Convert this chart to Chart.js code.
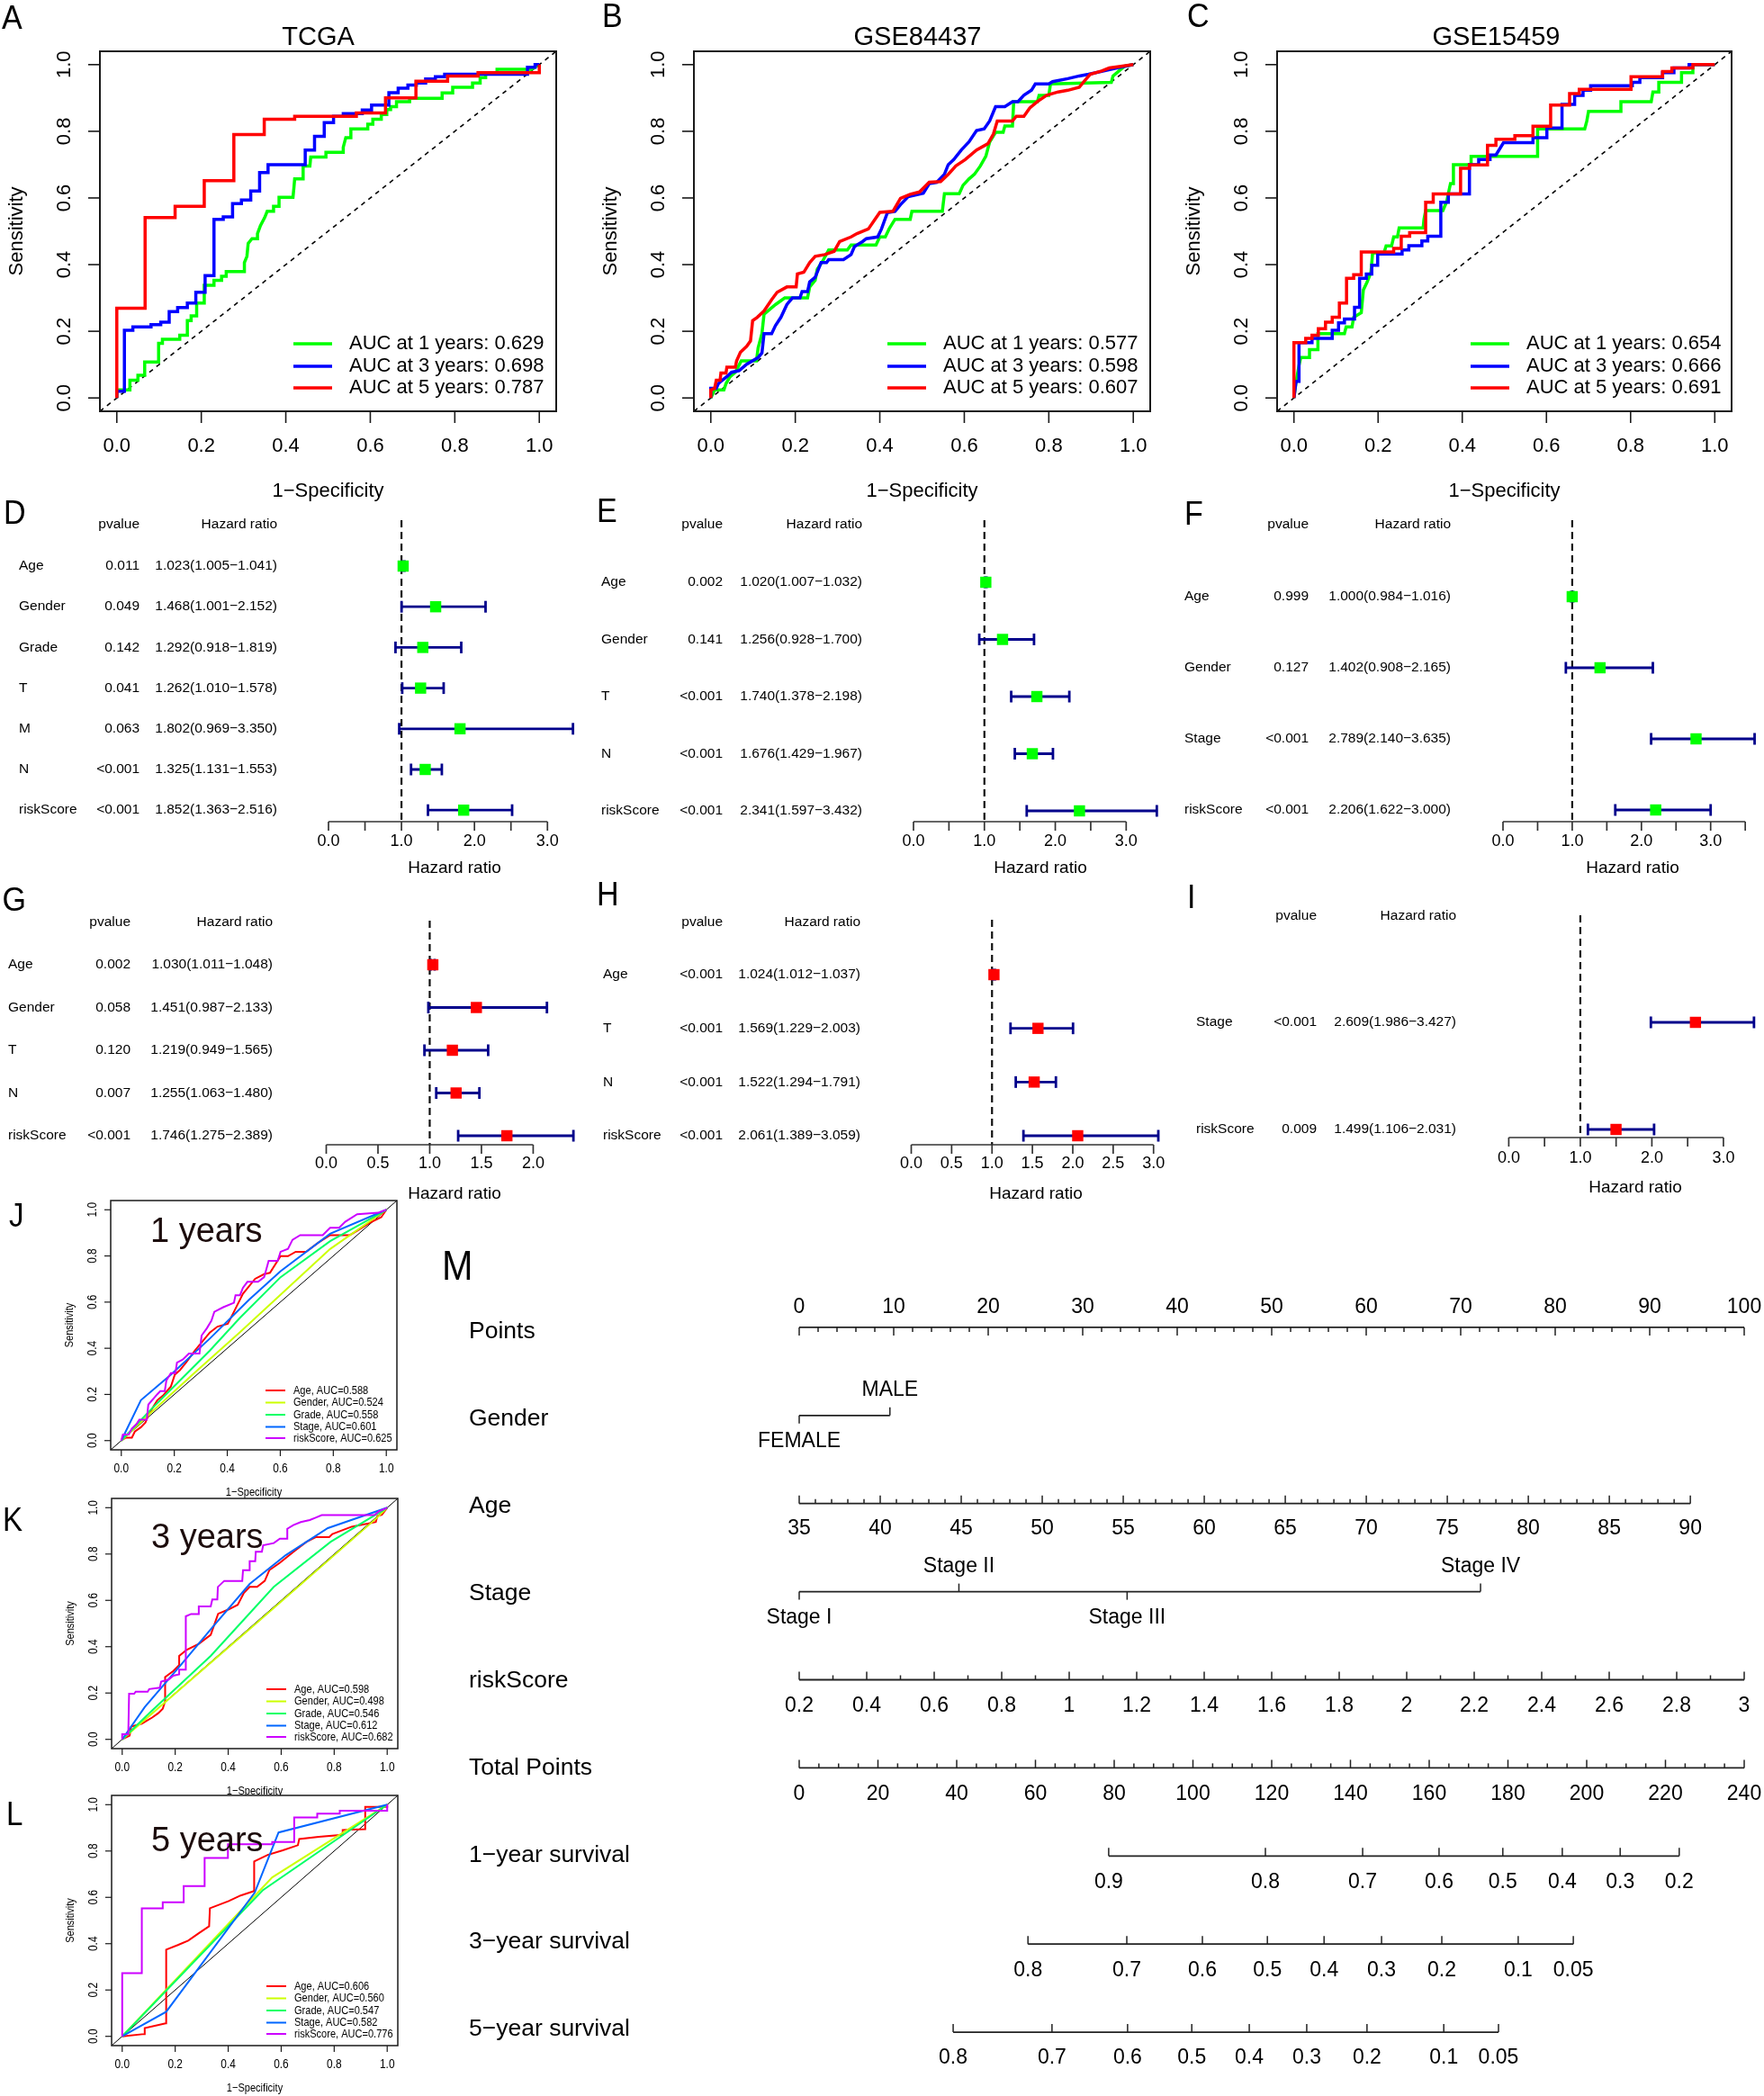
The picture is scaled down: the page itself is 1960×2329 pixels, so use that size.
<!DOCTYPE html>
<html lang="en">
<head>
<meta charset="UTF-8">
<title>Risk model validation figure</title>
<script src="https://cdn.jsdelivr.net/npm/chart.js"></script>
<style>
  body { margin: 0; background: #fff; }
  #fig { position: relative; width: 1960px; height: 2329px; background: #fff; overflow: hidden; }
  #fig canvas { position: absolute; }
</style>
</head>
<body>
<div id="fig"></div>
<script>
// ---------- ROC curves, panels A-C : [1-specificity, sensitivity] ----------
const rocYears = [1, 3, 5];
const rocColors = ['#00FF00', '#0000FF', '#FF0000'];
const rocTicks = [0, 0.2, 0.4, 0.6, 0.8, 1.0];

const rocTCGA1 = [[0,0],[0,0.024],[0.031,0.024],[0.031,0.053],[0.050,0.053],[0.050,0.068],[0.066,0.068],[0.066,0.108],[0.099,0.108],[0.099,0.164],[0.108,0.164],[0.108,0.176],[0.149,0.176],[0.149,0.188],[0.167,0.188],[0.167,0.232],[0.176,0.232],[0.176,0.246],[0.189,0.246],[0.189,0.285],[0.207,0.285],[0.207,0.338],[0.230,0.338],[0.230,0.353],[0.248,0.353],[0.248,0.365],[0.259,0.365],[0.259,0.379],[0.302,0.379],[0.302,0.406],[0.308,0.425],[0.311,0.464],[0.320,0.478],[0.333,0.478],[0.333,0.493],[0.340,0.517],[0.350,0.541],[0.356,0.560],[0.371,0.560],[0.371,0.575],[0.384,0.575],[0.384,0.602],[0.417,0.602],[0.419,0.628],[0.421,0.657],[0.441,0.657],[0.441,0.696],[0.457,0.696],[0.459,0.723],[0.495,0.723],[0.495,0.737],[0.536,0.737],[0.536,0.752],[0.542,0.781],[0.554,0.781],[0.554,0.807],[0.594,0.807],[0.594,0.821],[0.606,0.821],[0.606,0.836],[0.626,0.836],[0.626,0.850],[0.639,0.850],[0.639,0.865],[0.648,0.865],[0.648,0.874],[0.662,0.874],[0.662,0.889],[0.693,0.889],[0.693,0.899],[0.770,0.899],[0.770,0.915],[0.795,0.915],[0.795,0.932],[0.842,0.932],[0.842,0.945],[0.860,0.945],[0.860,0.961],[0.873,0.961],[0.873,0.974],[0.900,0.974],[0.900,0.986],[0.981,0.986],[1,1]];
const rocTCGA3 = [[0,0],[0,0.02],[0.018,0.02],[0.018,0.203],[0.038,0.203],[0.038,0.213],[0.081,0.213],[0.081,0.220],[0.104,0.220],[0.104,0.227],[0.124,0.227],[0.124,0.259],[0.144,0.259],[0.144,0.271],[0.167,0.271],[0.167,0.285],[0.187,0.285],[0.187,0.317],[0.209,0.317],[0.209,0.367],[0.230,0.367],[0.230,0.536],[0.252,0.536],[0.252,0.543],[0.274,0.543],[0.274,0.583],[0.295,0.583],[0.295,0.594],[0.317,0.594],[0.317,0.621],[0.338,0.621],[0.338,0.676],[0.358,0.676],[0.358,0.700],[0.446,0.700],[0.446,0.744],[0.468,0.744],[0.468,0.785],[0.491,0.785],[0.491,0.826],[0.513,0.826],[0.513,0.845],[0.536,0.845],[0.536,0.853],[0.581,0.853],[0.581,0.864],[0.603,0.864],[0.603,0.879],[0.644,0.879],[0.644,0.916],[0.666,0.916],[0.666,0.929],[0.689,0.929],[0.689,0.939],[0.709,0.939],[0.709,0.945],[0.731,0.945],[0.731,0.957],[0.754,0.957],[0.754,0.964],[0.776,0.964],[0.776,0.971],[0.972,0.971],[0.972,0.992],[0.990,0.992],[0.990,1],[1,1]];
const rocTCGA5 = [[0,0],[0,0.269],[0.067,0.269],[0.067,0.541],[0.138,0.541],[0.138,0.575],[0.207,0.575],[0.207,0.652],[0.277,0.652],[0.277,0.790],[0.349,0.790],[0.349,0.836],[0.421,0.836],[0.421,0.845],[0.567,0.845],[0.567,0.855],[0.636,0.855],[0.636,0.900],[0.708,0.900],[0.708,0.950],[0.783,0.950],[0.783,0.966],[0.855,0.966],[0.855,0.976],[1,0.976],[1,1]];
const aucTCGA = [0.629, 0.698, 0.787];

const rocG84_1 = [[0,0],[0.009,0.024],[0.031,0.024],[0.036,0.043],[0.045,0.063],[0.058,0.077],[0.072,0.111],[0.108,0.111],[0.112,0.150],[0.121,0.193],[0.126,0.251],[0.153,0.280],[0.175,0.300],[0.229,0.300],[0.234,0.333],[0.247,0.353],[0.252,0.386],[0.265,0.411],[0.279,0.444],[0.323,0.444],[0.332,0.459],[0.391,0.459],[0.400,0.483],[0.413,0.483],[0.422,0.507],[0.436,0.536],[0.472,0.536],[0.476,0.560],[0.548,0.560],[0.553,0.613],[0.588,0.613],[0.597,0.638],[0.611,0.657],[0.624,0.671],[0.638,0.696],[0.651,0.725],[0.660,0.768],[0.674,0.797],[0.692,0.797],[0.696,0.816],[0.714,0.816],[0.717,0.889],[0.773,0.889],[0.777,0.908],[0.800,0.908],[0.804,0.942],[0.948,0.947],[0.952,0.966],[0.966,0.981],[0.979,0.995],[1,1]];
const rocG84_3 = [[0,0],[0,0.029],[0.013,0.029],[0.018,0.043],[0.027,0.053],[0.040,0.066],[0.049,0.077],[0.067,0.082],[0.085,0.101],[0.112,0.121],[0.121,0.135],[0.126,0.193],[0.144,0.193],[0.153,0.217],[0.166,0.242],[0.180,0.280],[0.193,0.300],[0.211,0.300],[0.216,0.319],[0.229,0.319],[0.234,0.348],[0.247,0.362],[0.261,0.406],[0.274,0.406],[0.279,0.415],[0.314,0.415],[0.332,0.430],[0.340,0.454],[0.359,0.469],[0.368,0.478],[0.395,0.483],[0.404,0.507],[0.418,0.556],[0.436,0.560],[0.449,0.580],[0.467,0.604],[0.503,0.614],[0.517,0.643],[0.535,0.647],[0.553,0.671],[0.562,0.700],[0.575,0.715],[0.593,0.744],[0.611,0.768],[0.629,0.802],[0.647,0.807],[0.660,0.831],[0.674,0.874],[0.696,0.874],[0.714,0.889],[0.727,0.889],[0.741,0.908],[0.759,0.923],[0.768,0.942],[0.800,0.942],[0.809,0.949],[0.845,0.958],[0.872,0.966],[0.894,0.971],[0.930,0.981],[0.961,0.990],[1,1]];
const rocG84_5 = [[0,0],[0,0.024],[0.009,0.029],[0.013,0.053],[0.022,0.053],[0.024,0.075],[0.036,0.075],[0.038,0.092],[0.058,0.092],[0.061,0.111],[0.070,0.137],[0.085,0.155],[0.094,0.171],[0.099,0.232],[0.110,0.242],[0.126,0.261],[0.144,0.295],[0.157,0.317],[0.180,0.333],[0.202,0.333],[0.205,0.372],[0.220,0.377],[0.234,0.406],[0.247,0.425],[0.270,0.430],[0.292,0.440],[0.305,0.469],[0.332,0.483],[0.346,0.493],[0.373,0.507],[0.386,0.531],[0.400,0.557],[0.431,0.560],[0.449,0.599],[0.472,0.611],[0.494,0.618],[0.517,0.647],[0.544,0.649],[0.562,0.671],[0.580,0.696],[0.602,0.715],[0.629,0.744],[0.656,0.763],[0.669,0.792],[0.678,0.831],[0.714,0.831],[0.723,0.845],[0.741,0.845],[0.755,0.870],[0.773,0.889],[0.795,0.908],[0.822,0.918],[0.845,0.923],[0.872,0.932],[0.885,0.952],[0.898,0.971],[0.925,0.981],[0.943,0.990],[0.970,0.995],[1,1]];
const aucG84 = [0.577, 0.598, 0.607];

const rocG15_1 = [[0,0],[0.005,0.048],[0.012,0.097],[0.016,0.121],[0.037,0.121],[0.037,0.145],[0.057,0.145],[0.057,0.193],[0.120,0.193],[0.124,0.213],[0.138,0.213],[0.142,0.242],[0.160,0.256],[0.165,0.324],[0.174,0.348],[0.183,0.377],[0.187,0.435],[0.214,0.435],[0.219,0.456],[0.232,0.456],[0.237,0.483],[0.246,0.483],[0.250,0.510],[0.307,0.510],[0.309,0.536],[0.313,0.562],[0.354,0.562],[0.363,0.589],[0.367,0.614],[0.372,0.643],[0.379,0.643],[0.379,0.700],[0.421,0.700],[0.421,0.725],[0.579,0.725],[0.579,0.807],[0.691,0.807],[0.696,0.831],[0.700,0.860],[0.777,0.860],[0.777,0.889],[0.849,0.889],[0.853,0.918],[0.867,0.918],[0.867,0.947],[0.921,0.947],[0.921,0.976],[0.948,0.976],[0.948,1],[1,1]];
const rocG15_3 = [[0,0],[0.005,0.050],[0.012,0.050],[0.012,0.166],[0.043,0.166],[0.043,0.179],[0.091,0.179],[0.091,0.203],[0.106,0.203],[0.106,0.225],[0.120,0.225],[0.120,0.237],[0.144,0.237],[0.144,0.272],[0.156,0.272],[0.156,0.359],[0.172,0.359],[0.172,0.372],[0.185,0.372],[0.185,0.398],[0.199,0.398],[0.199,0.432],[0.257,0.432],[0.257,0.444],[0.273,0.444],[0.273,0.457],[0.304,0.457],[0.304,0.471],[0.318,0.471],[0.318,0.485],[0.349,0.485],[0.349,0.587],[0.367,0.587],[0.367,0.612],[0.417,0.612],[0.417,0.700],[0.439,0.700],[0.439,0.715],[0.466,0.715],[0.466,0.729],[0.480,0.729],[0.498,0.766],[0.568,0.766],[0.568,0.781],[0.601,0.781],[0.601,0.810],[0.637,0.810],[0.637,0.881],[0.667,0.881],[0.667,0.908],[0.687,0.908],[0.687,0.923],[0.705,0.923],[0.705,0.937],[0.804,0.937],[0.804,0.947],[0.822,0.947],[0.822,0.961],[0.876,0.961],[0.876,0.976],[0.903,0.976],[0.903,0.990],[0.939,0.990],[0.939,1],[1,1]];
const rocG15_5 = [[0,0],[0,0.166],[0.028,0.166],[0.028,0.179],[0.043,0.179],[0.043,0.188],[0.058,0.188],[0.058,0.208],[0.075,0.208],[0.075,0.227],[0.091,0.227],[0.091,0.242],[0.108,0.242],[0.108,0.285],[0.125,0.285],[0.125,0.359],[0.142,0.359],[0.142,0.370],[0.160,0.370],[0.160,0.438],[0.237,0.438],[0.237,0.449],[0.255,0.449],[0.255,0.485],[0.275,0.485],[0.275,0.496],[0.313,0.496],[0.313,0.587],[0.331,0.587],[0.331,0.612],[0.396,0.612],[0.396,0.689],[0.417,0.689],[0.417,0.699],[0.460,0.699],[0.460,0.758],[0.480,0.758],[0.480,0.776],[0.525,0.776],[0.525,0.787],[0.568,0.787],[0.568,0.815],[0.610,0.815],[0.610,0.879],[0.655,0.879],[0.655,0.913],[0.678,0.913],[0.678,0.926],[0.801,0.926],[0.801,0.964],[0.876,0.964],[0.876,0.979],[0.898,0.979],[0.898,0.990],[0.948,0.990],[0.948,1],[1,1]];
const aucG15 = [0.654, 0.666, 0.691];

// ---------- ROC of clinical variables, panels J-L ----------
const clinVars = ['Age', 'Gender', 'Grade', 'Stage', 'riskScore'];
const clinColors = ['#FF0000', '#CCFF00', '#00FF66', '#0066FF', '#CC00FF'];

const j_age = [[0,0],[0.017,0.013],[0.040,0.013],[0.051,0.039],[0.074,0.058],[0.091,0.078],[0.102,0.110],[0.119,0.143],[0.136,0.175],[0.159,0.197],[0.187,0.234],[0.202,0.286],[0.221,0.305],[0.244,0.338],[0.278,0.390],[0.306,0.429],[0.334,0.468],[0.363,0.494],[0.402,0.506],[0.425,0.558],[0.459,0.636],[0.505,0.701],[0.539,0.721],[0.561,0.727],[0.601,0.799],[0.629,0.799],[0.658,0.818],[0.697,0.818],[0.743,0.857],[0.788,0.890],[0.862,0.890],[0.890,0.909],[0.935,0.942],[0.981,0.968],[1,1]];
const j_gender = [[0,0],[0.108,0.117],[0.278,0.295],[0.448,0.470],[0.618,0.650],[0.788,0.830],[1,1]];
const j_grade = [[0,0],[0.108,0.130],[0.221,0.260],[0.334,0.390],[0.448,0.532],[0.601,0.708],[0.788,0.864],[1,1]];
const j_stage = [[0,0],[0.074,0.175],[0.187,0.286],[0.334,0.442],[0.482,0.610],[0.601,0.734],[0.788,0.896],[1,1]];
const j_risk = [[0,0],[0.006,0.026],[0.028,0.026],[0.040,0.052],[0.057,0.071],[0.068,0.091],[0.096,0.091],[0.102,0.156],[0.136,0.201],[0.147,0.214],[0.164,0.214],[0.170,0.260],[0.187,0.292],[0.204,0.292],[0.210,0.338],[0.232,0.351],[0.255,0.377],[0.295,0.377],[0.303,0.455],[0.323,0.487],[0.340,0.519],[0.351,0.558],[0.385,0.578],[0.425,0.597],[0.431,0.630],[0.448,0.630],[0.459,0.662],[0.476,0.688],[0.516,0.688],[0.539,0.708],[0.556,0.779],[0.590,0.779],[0.601,0.818],[0.629,0.831],[0.646,0.870],[0.675,0.890],[0.760,0.890],[0.788,0.922],[0.822,0.922],[0.845,0.948],[0.890,0.981],[0.969,0.987],[1,1]];
const aucJ = [0.588, 0.524, 0.558, 0.601, 0.625];

const k_age = [[0,0],[0.028,0.016],[0.034,0.055],[0.074,0.068],[0.113,0.094],[0.136,0.113],[0.153,0.132],[0.162,0.165],[0.162,0.269],[0.193,0.295],[0.215,0.321],[0.215,0.360],[0.243,0.386],[0.289,0.412],[0.334,0.451],[0.362,0.542],[0.402,0.561],[0.436,0.581],[0.459,0.632],[0.481,0.658],[0.509,0.658],[0.538,0.684],[0.555,0.730],[0.595,0.762],[0.651,0.814],[0.696,0.853],[0.730,0.873],[0.781,0.873],[0.793,0.886],[0.866,0.918],[0.957,0.938],[0.963,0.964],[0.980,0.970],[1,1]];
const k_gender = [[0,0],[0.5,0.495],[0.96,0.955],[1,1]];
const k_grade = [[0,0],[0.108,0.119],[0.334,0.360],[0.572,0.658],[0.787,0.853],[1,1]];
const k_stage = [[0,0],[0.085,0.139],[0.221,0.321],[0.345,0.490],[0.481,0.671],[0.617,0.795],[0.776,0.912],[1,1]];
const k_risk = [[0,0],[0,0.022],[0.023,0.022],[0.026,0.197],[0.045,0.197],[0.051,0.206],[0.096,0.206],[0.102,0.217],[0.142,0.223],[0.147,0.249],[0.175,0.258],[0.193,0.275],[0.215,0.281],[0.215,0.301],[0.240,0.301],[0.240,0.531],[0.260,0.541],[0.289,0.541],[0.289,0.574],[0.334,0.574],[0.340,0.604],[0.359,0.604],[0.361,0.658],[0.385,0.684],[0.453,0.684],[0.456,0.730],[0.481,0.730],[0.481,0.769],[0.502,0.769],[0.504,0.810],[0.527,0.810],[0.532,0.838],[0.572,0.847],[0.595,0.866],[0.623,0.866],[0.623,0.909],[0.646,0.925],[0.674,0.938],[0.708,0.947],[0.730,0.957],[0.753,0.968],[0.951,0.968],[0.968,0.984],[1,1]];
const aucK = [0.598, 0.498, 0.546, 0.612, 0.682];

const l_age = [[0,0],[0.083,0.010],[0.085,0.036],[0.164,0.056],[0.166,0.374],[0.210,0.394],[0.249,0.413],[0.289,0.445],[0.328,0.475],[0.331,0.553],[0.402,0.584],[0.447,0.608],[0.498,0.627],[0.498,0.755],[0.549,0.783],[0.606,0.803],[0.663,0.825],[0.668,0.852],[0.742,0.861],[0.832,0.870],[0.832,0.891],[0.917,0.894],[0.917,0.990],[1,0.990],[1,1]];
const l_gender = [[0,0],[0.566,0.686],[1,1]];
const l_grade = [[0,0],[0.53,0.63],[1,1]];
const l_stage = [[0,0],[0.166,0.106],[0.5,0.62],[0.59,0.88],[1,1]];
const l_risk = [[0,0],[0,0.273],[0.074,0.273],[0.074,0.552],[0.153,0.552],[0.153,0.579],[0.232,0.579],[0.232,0.649],[0.311,0.649],[0.311,0.770],[0.399,0.770],[0.399,0.829],[0.566,0.829],[0.566,0.839],[0.649,0.839],[0.649,0.945],[0.736,0.945],[0.736,0.961],[0.821,0.961],[0.821,0.974],[1,0.974],[1,1]];
const aucL = [0.606, 0.560, 0.547, 0.582, 0.776];

// ---------- Cox forest plots, panels D-I ----------
const dVars = ['Age', 'Gender', 'Grade', 'T', 'M', 'N', 'riskScore'];
const dP = ['0.011', '0.049', '0.142', '0.041', '0.063', '<0.001', '<0.001'];
const dHR = [1.023, 1.468, 1.292, 1.262, 1.802, 1.325, 1.852];
const dLo = [1.005, 1.001, 0.918, 1.010, 0.969, 1.131, 1.363];
const dHi = [1.041, 2.152, 1.819, 1.578, 3.350, 1.553, 2.516];

const eVars = ['Age', 'Gender', 'T', 'N', 'riskScore'];
const eP = ['0.002', '0.141', '<0.001', '<0.001', '<0.001'];
const eHR = [1.020, 1.256, 1.740, 1.676, 2.341];
const eLo = [1.007, 0.928, 1.378, 1.429, 1.597];
const eHi = [1.032, 1.700, 2.198, 1.967, 3.432];

const fVars = ['Age', 'Gender', 'Stage', 'riskScore'];
const fP = ['0.999', '0.127', '<0.001', '<0.001'];
const fHR = [1.000, 1.402, 2.789, 2.206];
const fLo = [0.984, 0.908, 2.140, 1.622];
const fHi = [1.016, 2.165, 3.635, 3.000];

const gVars = ['Age', 'Gender', 'T', 'N', 'riskScore'];
const gP = ['0.002', '0.058', '0.120', '0.007', '<0.001'];
const gHR = [1.030, 1.451, 1.219, 1.255, 1.746];
const gLo = [1.011, 0.987, 0.949, 1.063, 1.275];
const gHi = [1.048, 2.133, 1.565, 1.480, 2.389];

const hVars = ['Age', 'T', 'N', 'riskScore'];
const hP = ['<0.001', '<0.001', '<0.001', '<0.001'];
const hHR = [1.024, 1.569, 1.522, 2.061];
const hLo = [1.012, 1.229, 1.294, 1.389];
const hHi = [1.037, 2.003, 1.791, 3.059];

const iVars = ['Stage', 'riskScore'];
const iP = ['<0.001', '0.009'];
const iHR = [2.609, 1.499];
const iLo = [1.986, 1.106];
const iHi = [3.427, 2.031];

// ---------- Nomogram, panel M ----------
const nomoRows = ['Points', 'Gender', 'Age', 'Stage', 'riskScore', 'Total Points',
  '1\u2212year survival', '3\u2212year survival', '5\u2212year survival'];
const pointsTicks = [0, 10, 20, 30, 40, 50, 60, 70, 80, 90, 100];
const genderLevels = ['FEMALE', 'MALE'];
const genderPoints = [0, 9.6];
const ageTicks = [35, 40, 45, 50, 55, 60, 65, 70, 75, 80, 85, 90];
const agePointsMax = 94.3;
const stageLevels = ['Stage I', 'Stage II', 'Stage III', 'Stage IV'];
const stagePoints = [0, 16.9, 34.7, 72.1];
const riskTicks = [0.2, 0.4, 0.6, 0.8, 1, 1.2, 1.4, 1.6, 1.8, 2, 2.2, 2.4, 2.6, 2.8, 3];
const totalTicks = [0, 20, 40, 60, 80, 100, 120, 140, 160, 180, 200, 220, 240];
const surv1 = [0.9, 0.8, 0.7, 0.6, 0.5, 0.4, 0.3, 0.2];
const surv1Total = [78.6, 118.4, 143.1, 162.5, 178.7, 193.8, 208.5, 223.5];
const surv3 = [0.8, 0.7, 0.6, 0.5, 0.4, 0.3, 0.2, 0.1, 0.05];
const surv3Total = [58.1, 83.2, 102.4, 118.9, 133.3, 147.9, 163.2, 182.6, 196.6];
const surv5 = [0.8, 0.7, 0.6, 0.5, 0.4, 0.3, 0.2, 0.1, 0.05];
const surv5Total = [39.1, 64.2, 83.4, 99.7, 114.3, 128.9, 144.2, 163.7, 177.6];

// ================= drawing =================
const FONT = '"Liberation Sans", Arial, Helvetica, sans-serif';
Chart.defaults.font.family = FONT;
const CI_COL = '#00008B';

function place(x, y, w, h) {
  const c = document.createElement('canvas');
  c.width = w; c.height = h;
  c.style.left = x + 'px'; c.style.top = y + 'px';
  c.style.width = w + 'px'; c.style.height = h + 'px';
  document.getElementById('fig').appendChild(c);
  return c;
}

function txt(ctx, s, x, y, o) {
  o = o || {};
  ctx.save();
  ctx.translate(x, y);
  if (o.rot) ctx.rotate(o.rot);
  ctx.scale(o.sx || 1, 1);
  ctx.font = (o.size || 14) + 'px ' + FONT;
  ctx.fillStyle = o.color || '#000';
  ctx.textAlign = o.align || 'center';
  ctx.textBaseline = o.base || 'middle';
  ctx.fillText(s, 0, 0);
  ctx.restore();
}

function line(ctx, x1, y1, x2, y2) {
  ctx.beginPath(); ctx.moveTo(x1, y1); ctx.lineTo(x2, y2); ctx.stroke();
}

const baseOpts = {
  responsive: false, animation: false, devicePixelRatio: 1, events: [],
  plugins: { legend: { display: false }, tooltip: { enabled: false } }
};

// ---- ROC panels ----
const bigSt = { font: 22, tfont: 22, lfont: 22, sx: 1, tick: 13, xlab: 39, ylab: 39, xtitle: 89, ytitle: 92,
  boxW: 2, tickW: 1.6, legX1: 215, legX2: 258, legTX: 277, legRows: [-75, -50, -26], letter: 37 };
const smallSt = { font: 14, tfont: 13, lfont: 13, sx: 0.85, tick: 7, xlab: 21, ylab: 20, xtitle: 47, ytitle: 46,
  boxW: 1.5, tickW: 1.2, legX1: 172, legX2: 194, legTX: 203, legRows: [-66, -52.5, -39, -25.5, -13], letter: 36 };

function rocPanel(o) {
  const [cx, cy, cw, ch] = o.rect, [bx0, by0, bx1, by1] = o.box;
  const cv = place(cx, cy, cw, ch);
  const n = o.curves.length;
  const ds = o.curves.map((c, i) => ({
    data: c.map(p => ({ x: p[0], y: p[1] })),
    borderColor: o.colors[i], borderWidth: o.lw, showLine: true,
    pointRadius: 0, tension: 0, order: n - i, clip: 3
  }));
  ds.push({ data: [{ x: -0.04, y: -0.04 }, { x: 1.04, y: 1.04 }], borderColor: '#000',
    borderWidth: o.diagW, borderDash: o.diagDash, showLine: true, pointRadius: 0, order: 99, clip: 0 });
  new Chart(cv, {
    type: 'scatter',
    data: { datasets: ds },
    options: Object.assign({}, baseOpts, {
      layout: { padding: { left: bx0 - cx, top: by0 - cy, right: cx + cw - bx1, bottom: cy + ch - by1 } },
      scales: {
        x: { type: 'linear', min: -0.04, max: 1.04, display: false },
        y: { type: 'linear', min: -0.04, max: 1.04, display: false }
      }
    }),
    plugins: [{ id: 'rocDecor', afterDraw: chart => drawRocDecor(chart, o) }]
  });
}

function drawRocDecor(chart, o) {
  const ctx = chart.ctx, a = chart.chartArea, s = o.st;
  const X = v => chart.scales.x.getPixelForValue(v);
  const Y = v => chart.scales.y.getPixelForValue(v);
  const [cx, cy] = o.rect;
  ctx.save();
  ctx.strokeStyle = '#1a1a1a'; ctx.lineWidth = s.boxW;
  ctx.strokeRect(a.left, a.top, a.right - a.left, a.bottom - a.top);
  ctx.lineWidth = s.tickW;
  rocTicks.forEach(t => {
    line(ctx, X(t), a.bottom, X(t), a.bottom + s.tick);
    line(ctx, a.left, Y(t), a.left - s.tick, Y(t));
    txt(ctx, t.toFixed(1), X(t), a.bottom + s.xlab, { size: s.font, sx: s.sx });
    txt(ctx, t.toFixed(1), a.left - s.ylab, Y(t), { size: s.font, sx: s.sx, rot: -Math.PI / 2 });
  });
  const mx = (a.left + a.right) / 2, my = (a.top + a.bottom) / 2;
  txt(ctx, '1\u2212Specificity', mx, a.bottom + s.xtitle, { size: s.tfont, sx: s.sx });
  txt(ctx, 'Sensitivity', a.left - s.ytitle, my, { size: s.tfont, sx: s.sx, rot: -Math.PI / 2 });
  if (o.title) txt(ctx, o.title, mx + o.titleDx, a.top - 7, { size: 29, base: 'alphabetic' });
  if (o.yearText) txt(ctx, o.yearText, a.left + 44, a.top + o.yearBase,
    { size: 38, base: 'alphabetic', align: 'left', color: '#1c0c0c' });
  ctx.lineWidth = o.lw;
  o.legend.forEach((lab, i) => {
    const y = a.bottom + s.legRows[i];
    ctx.strokeStyle = o.colors[i];
    line(ctx, a.left + s.legX1, y, a.left + s.legX2, y);
    txt(ctx, lab, a.left + s.legTX, y, { size: s.lfont, sx: s.sx, align: 'left' });
  });
  txt(ctx, o.letter, o.letterPos[0] - cx, o.letterPos[1] - cy, { size: s.letter, sx: 0.92, align: 'left', base: 'alphabetic' });
  ctx.restore();
}

const yearLegend = auc => auc.map((v, i) => 'AUC at ' + rocYears[i] + ' years: ' + v.toFixed(3));
const clinLegend = auc => auc.map((v, i) => clinVars[i] + ', AUC=' + v.toFixed(3));

rocPanel({ rect: [0, 0, 660, 575], box: [111, 57, 618, 457], curves: [rocTCGA1, rocTCGA3, rocTCGA5],
  colors: rocColors, lw: 3.5, diagW: 1.6, diagDash: [5, 5], st: bigSt, title: 'TCGA', titleDx: -11,
  legend: yearLegend(aucTCGA), letter: 'A', letterPos: [2, 32] });
rocPanel({ rect: [655, 0, 650, 575], box: [771, 57, 1278, 457], curves: [rocG84_1, rocG84_3, rocG84_5],
  colors: rocColors, lw: 3.5, diagW: 1.6, diagDash: [5, 5], st: bigSt, title: 'GSE84437', titleDx: -5,
  legend: yearLegend(aucG84), letter: 'B', letterPos: [669, 30] });
rocPanel({ rect: [1305, 0, 655, 575], box: [1419, 57, 1924, 457], curves: [rocG15_1, rocG15_3, rocG15_5],
  colors: rocColors, lw: 3.5, diagW: 1.6, diagDash: [5, 5], st: bigSt, title: 'GSE15459', titleDx: -9,
  legend: yearLegend(aucG15), letter: 'C', letterPos: [1319, 30] });

rocPanel({ rect: [0, 1325, 480, 340], box: [123, 1334, 441, 1611], curves: [j_age, j_gender, j_grade, j_stage, j_risk],
  colors: clinColors, lw: 2, diagW: 1, diagDash: [], st: smallSt, yearText: '1 years', yearBase: 46,
  legend: clinLegend(aucJ), letter: 'J', letterPos: [10, 1363] });
rocPanel({ rect: [0, 1660, 480, 335], box: [124, 1665, 442, 1943], curves: [k_age, k_gender, k_grade, k_stage, k_risk],
  colors: clinColors, lw: 2, diagW: 1, diagDash: [], st: smallSt, yearText: '3 years', yearBase: 55,
  legend: clinLegend(aucK), letter: 'K', letterPos: [3, 1701] });
rocPanel({ rect: [0, 1990, 480, 339], box: [124, 1995, 442, 2273], curves: [l_age, l_gender, l_grade, l_stage, l_risk],
  colors: clinColors, lw: 2, diagW: 1, diagDash: [], st: smallSt, yearText: '5 years', yearBase: 62,
  legend: clinLegend(aucL), letter: 'L', letterPos: [7, 2028] });

// ---- forest panels ----
function forestPanel(o) {
  const [cx, cy, cw, ch] = o.rect;
  const cv = place(cx, cy, cw, ch);
  const ymin = (o.dashTop - o.row0) / o.step, ymax = (o.axisY - o.row0) / o.step;
  const right = o.px0 + o.unit * o.xspan;
  const ds = [];
  o.hr.forEach((h, i) => ds.push({
    data: [{ x: o.lo[i], y: i }, { x: o.hi[i], y: i }], showLine: true,
    borderColor: CI_COL, borderWidth: 2.8, pointStyle: 'line', pointRotation: 90, pointRadius: 6.5,
    pointBorderWidth: 2.8, pointBorderColor: CI_COL, order: 2, clip: false
  }));
  ds.push({ data: o.hr.map((h, i) => ({ x: h, y: i })), pointStyle: 'rect', pointRadius: 8.8,
    pointBackgroundColor: o.color, pointBorderColor: o.color, pointBorderWidth: 0, showLine: false, order: 1, clip: false });
  ds.push({ data: [{ x: 1, y: ymin }, { x: 1, y: ymax }], showLine: true, borderColor: '#111', borderWidth: 2.2,
    borderDash: [8, 5], pointRadius: 0, order: 3, clip: false });
  new Chart(cv, {
    type: 'scatter',
    data: { datasets: ds },
    options: Object.assign({}, baseOpts, {
      layout: { padding: { left: o.px0 - cx, right: cx + cw - right, top: o.dashTop - cy, bottom: cy + ch - o.axisY } },
      scales: {
        x: { type: 'linear', min: 0, max: o.xspan, display: false },
        y: { type: 'linear', min: ymin, max: ymax, reverse: true, display: false }
      }
    }),
    plugins: [{ id: 'forestDecor', afterDraw: chart => drawForestDecor(chart, o) }]
  });
}

function drawForestDecor(chart, o) {
  const ctx = chart.ctx, a = chart.chartArea, [cx, cy] = o.rect;
  const X = v => chart.scales.x.getPixelForValue(v), Y = v => chart.scales.y.getPixelForValue(v);
  const L = x => x - cx, T = y => y - cy;
  const f = { size: 15.5 };
  ctx.save();
  ctx.strokeStyle = '#333'; ctx.lineWidth = 1.7;
  line(ctx, X(0), a.bottom, X(o.axisMax), a.bottom);
  for (let t = 0; t <= o.axisMax + 1e-9; t += 0.5) line(ctx, X(t), a.bottom, X(t), a.bottom + 10);
  o.tickLabels.forEach(t => txt(ctx, t.toFixed(1), X(t), a.bottom + o.labDy, { size: 18 }));
  txt(ctx, 'Hazard ratio', L(o.titleX), T(o.titleY), { size: 19 });
  txt(ctx, 'pvalue', L(o.pvalR), T(o.headerY), Object.assign({ align: 'right' }, f));
  txt(ctx, 'Hazard ratio', L(o.hrR), T(o.headerY), Object.assign({ align: 'right' }, f));
  o.labels.forEach((lab, i) => {
    const y = Y(i);
    const hrs = o.hr[i].toFixed(3) + '(' + o.lo[i].toFixed(3) + '\u2212' + o.hi[i].toFixed(3) + ')';
    txt(ctx, lab, L(o.labelX), y, Object.assign({ align: 'left' }, f));
    txt(ctx, o.p[i], L(o.pvalR), y, Object.assign({ align: 'right' }, f));
    txt(ctx, hrs, L(o.hrR), y, Object.assign({ align: 'right' }, f));
  });
  txt(ctx, o.letter, L(o.letterPos[0]), T(o.letterPos[1]), { size: 37, sx: 0.92, align: 'left', base: 'alphabetic' });
  ctx.restore();
}

const GREEN = '#00FF00', RED = '#FF0000';
forestPanel({ rect: [0, 540, 650, 440], labels: dVars, p: dP, hr: dHR, lo: dLo, hi: dHi, color: GREEN,
  px0: 365, unit: 83.4, xspan: 3.4, axisMax: 3, tickLabels: [0, 1, 2, 3], row0: 629, step: 45.2,
  dashTop: 578, axisY: 913, labDy: 22, titleX: 505, titleY: 965, labelX: 21, pvalR: 155, hrR: 308, headerY: 583,
  letter: 'D', letterPos: [4, 582] });
forestPanel({ rect: [650, 540, 650, 440], labels: eVars, p: eP, hr: eHR, lo: eLo, hi: eHi, color: GREEN,
  px0: 1015, unit: 82.1, xspan: 3.5, axisMax: 3, tickLabels: [0, 1, 2, 3], row0: 647, step: 63.5,
  dashTop: 578, axisY: 913, labDy: 22, titleX: 1156, titleY: 965, labelX: 668, pvalR: 803, hrR: 958, headerY: 583,
  letter: 'E', letterPos: [663, 580] });
forestPanel({ rect: [1300, 540, 660, 440], labels: fVars, p: fP, hr: fHR, lo: fLo, hi: fHi, color: GREEN,
  px0: 1670, unit: 79.6, xspan: 3.65, axisMax: 3.5, tickLabels: [0, 1, 2, 3], row0: 663, step: 79,
  dashTop: 578, axisY: 913, labDy: 22, titleX: 1814, titleY: 965, labelX: 1316, pvalR: 1454, hrR: 1612, headerY: 583,
  letter: 'F', letterPos: [1316, 583] });
forestPanel({ rect: [0, 975, 650, 370], labels: gVars, p: gP, hr: gHR, lo: gLo, hi: gHi, color: RED,
  px0: 362.5, unit: 120, xspan: 2.42, axisMax: 2, tickLabels: [0, 0.5, 1, 1.5, 2], row0: 1072, step: 47.5,
  dashTop: 1023, axisY: 1272, labDy: 21, titleX: 505, titleY: 1327, labelX: 9, pvalR: 145, hrR: 303, headerY: 1025,
  letter: 'G', letterPos: [2.5, 1012] });
forestPanel({ rect: [650, 975, 650, 370], labels: hVars, p: hP, hr: hHR, lo: hLo, hi: hHi, color: RED,
  px0: 1012.5, unit: 90.9, xspan: 3.1, axisMax: 3, tickLabels: [0, 0.5, 1, 1.5, 2, 2.5, 3], row0: 1083, step: 59.67,
  dashTop: 1022, axisY: 1272, labDy: 21, titleX: 1151, titleY: 1327, labelX: 670, pvalR: 803, hrR: 956, headerY: 1025,
  letter: 'H', letterPos: [663, 1006] });
forestPanel({ rect: [1300, 975, 660, 370], labels: iVars, p: iP, hr: iHR, lo: iLo, hi: iHi, color: RED,
  px0: 1676.4, unit: 82.1, xspan: 3.45, axisMax: 3, tickLabels: [0, 1, 2, 3], row0: 1136, step: 119,
  dashTop: 1017, axisY: 1264, labDy: 23, titleX: 1817, titleY: 1320, labelX: 1329, pvalR: 1463, hrR: 1618, headerY: 1018,
  letter: 'I', letterPos: [1319, 1009] });

// ---- nomogram ----
(function nomogram() {
  const cx = 480, cy = 1370, cw = 1480, ch = 959;
  const cv = place(cx, cy, cw, ch);
  const t2p = t => t * 100 / 240;
  const ageP = a => (a - ageTicks[0]) / (ageTicks[ageTicks.length - 1] - ageTicks[0]) * agePointsMax;
  const riskP = r => (r - riskTicks[0]) / (riskTicks[riskTicks.length - 1] - riskTicks[0]) * 100;
  const spans = [[0, 100], [0, genderPoints[1]], [0, agePointsMax], [0, stagePoints[3]], [0, 100], [0, 100],
    [t2p(surv1Total[0]), t2p(surv1Total[surv1Total.length - 1])],
    [t2p(surv3Total[0]), t2p(surv3Total[surv3Total.length - 1])],
    [t2p(surv5Total[0]), t2p(surv5Total[surv5Total.length - 1])]];
  const ds = spans.map((s, i) => ({ data: [{ x: s[0], y: i }, { x: s[1], y: i }], showLine: true,
    borderColor: '#222', borderWidth: 1.8, pointRadius: 0, clip: false }));
  new Chart(cv, {
    type: 'scatter',
    data: { datasets: ds },
    options: Object.assign({}, baseOpts, {
      layout: { padding: { left: 888 - cx, right: cx + cw - 1938, top: 1426 - cy, bottom: cy + ch - 2307 } },
      scales: {
        x: { type: 'linear', min: 0, max: 100, display: false },
        y: { type: 'linear', min: -0.5, max: 8.5, reverse: true, display: false }
      }
    }),
    plugins: [{ id: 'nomoDecor', afterDraw(chart) {
      const ctx = chart.ctx;
      const X = p => chart.scales.x.getPixelForValue(p), Y = r => chart.scales.y.getPixelForValue(r);
      const tk = (p, r, len) => line(ctx, X(p), Y(r), X(p), Y(r) + len);
      const lab = (s, p, r, dy) => txt(ctx, s, X(p), Y(r) + dy, { size: 23 });
      ctx.save();
      ctx.strokeStyle = '#222'; ctx.lineWidth = 1.5;
      nomoRows.forEach((nm, i) => txt(ctx, nm, 521 - cx, Y(i) + 5 - i, { size: 26.5, align: 'left' }));
      // Points
      for (let v = 0; v <= 100; v += 2) tk(v, 0, v % 10 === 0 ? 9 : 5);
      pointsTicks.forEach(v => lab(String(v), v, 0, -22));
      // Gender
      tk(genderPoints[0], 1, 9); tk(genderPoints[1], 1, -9);
      lab(genderLevels[0], genderPoints[0], 1, 29); lab(genderLevels[1], genderPoints[1], 1, -28);
      // Age
      for (let a = ageTicks[0]; a <= ageTicks[ageTicks.length - 1]; a += 1) tk(ageP(a), 2, a % 5 === 0 ? -9 : -5);
      ageTicks.forEach(a => lab(String(a), ageP(a), 2, 28));
      // Stage
      stageLevels.forEach((s, k) => {
        const up = k % 2 === 1;
        tk(stagePoints[k], 3, up ? -9 : 9);
        lab(s, stagePoints[k], 3, up ? -28 : 29);
      });
      // riskScore
      for (let r = 0.2; r <= 3.0001; r += 0.1) tk(riskP(r), 4, Math.round(r * 10) % 2 === 0 ? -9 : -5);
      riskTicks.forEach(r => lab(String(r), riskP(r), 4, 29));
      // Total points
      for (let t = 0; t <= 240; t += 5) tk(t2p(t), 5, t % 20 === 0 ? -9 : -5);
      totalTicks.forEach(t => lab(String(t), t2p(t), 5, 29));
      // survival axes
      [[surv1, surv1Total, 6], [surv3, surv3Total, 7], [surv5, surv5Total, 8]].forEach(([vals, tot, row]) => {
        vals.forEach((v, k) => { tk(t2p(tot[k]), row, -9); lab(String(v), t2p(tot[k]), row, 29); });
      });
      txt(ctx, 'M', 491 - cx, 1422 - cy, { size: 46, sx: 0.9, align: 'left', base: 'alphabetic' });
      ctx.restore();
    } }]
  });
})();
</script>
</body>
</html>
